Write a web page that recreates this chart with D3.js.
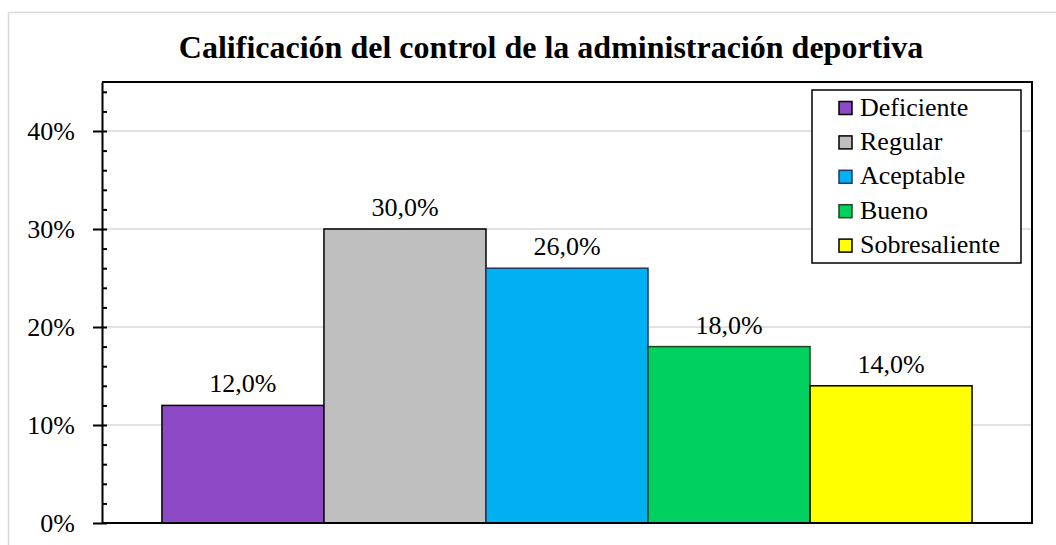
<!DOCTYPE html>
<html>
<head>
<meta charset="utf-8">
<script src="https://cdn.jsdelivr.net/npm/d3@7"></script>
</head>
<body style="margin:0">
<div id="container"></div>
<script>
/* DATA */
const categories = ["Deficiente", "Regular", "Aceptable", "Bueno", "Sobresaliente"];
const values = [0.12, 0.30, 0.26, 0.18, 0.14];
const yTicks = [0, 0.1, 0.2, 0.3, 0.4];
const yMinorTicks = d3.range(0, 0.451, 0.02);
const title = "Calificación del control de la administración deportiva";

/* CONSTANTS */
const width = 1056, height = 545;
const margin = { top: 82, bottom: 22, left: 102, right: 24 };
const fills = ["#8E49C6", "#BFBFBF", "#00B0F0", "#00D060", "#FFFF00"];
const strokes = ["#000", "#000", "#1F3864", "#1E4620", "#000"];
const fontFam = "Times New Roman";

const fmt = v => d3.format(".1%")(v).replace(".", ",");

const svg = d3.select("#container")
  .append("svg")
  .attr("width", width)
  .attr("height", height)
  .attr("font-family", fontFam)
  .style("font-family", `"${fontFam}"`);

// outer chart border
svg.append("rect")
  .attr("x", 8.5).attr("y", 12.5)
  .attr("width", width).attr("height", height)
  .attr("fill", "none").attr("stroke", "#d9d9d9").attr("stroke-width", 1.5);

/* SCALES */
const yScale = d3.scaleLinear()
  .domain([0, 0.45])
  .range([height - margin.bottom, margin.top]);

const xScale = d3.scaleBand()
  .domain(categories)
  .range([margin.left, width - margin.right])
  .paddingInner(0)
  .paddingOuter(0.37);

// gridlines
svg.append("g")
  .selectAll("line")
  .data(yTicks.slice(1))
  .join("line")
  .attr("x1", margin.left).attr("x2", width - margin.right)
  .attr("y1", d => yScale(d)).attr("y2", d => yScale(d))
  .attr("stroke", "#d9d9d9").attr("stroke-width", 1.5);

// bars
svg.append("g")
  .selectAll("rect")
  .data(values)
  .join("rect")
  .attr("x", (d, i) => xScale(categories[i]))
  .attr("y", d => yScale(d))
  .attr("width", xScale.bandwidth())
  .attr("height", d => yScale(0) - yScale(d))
  .attr("fill", (d, i) => fills[i])
  .attr("stroke", (d, i) => strokes[i])
  .attr("stroke-width", 1.5);

// value labels
svg.append("g")
  .selectAll("text")
  .data(values)
  .join("text")
  .attr("x", (d, i) => xScale(categories[i]) + xScale.bandwidth() / 2)
  .attr("y", d => yScale(d) - 13)
  .attr("text-anchor", "middle")
  .attr("font-size", 26)
  .style("font-family", `"${fontFam}"`)
  .text(d => fmt(d));

// plot frame (top & right)
svg.append("path")
  .attr("d", `M${margin.left},${margin.top}H${width - margin.right}V${yScale(0)}H${margin.left}`)
  .attr("fill", "none").attr("stroke", "#000").attr("stroke-width", 2);

// y axis: minor ticks inside
const yMinor = svg.append("g")
  .attr("transform", `translate(${margin.left},0)`)
  .call(d3.axisLeft(yScale).tickValues(yMinorTicks).tickSize(-5).tickFormat(""));
yMinor.selectAll("line").attr("stroke", "#000").attr("stroke-width", 2);
yMinor.select(".domain").remove();

// y axis: major ticks outside with labels
const yAxis = svg.append("g")
  .attr("transform", `translate(${margin.left},0)`)
  .call(d3.axisLeft(yScale).tickValues(yTicks).tickSize(9).tickSizeOuter(0).tickPadding(18)
    .tickFormat(d3.format(".0%")))
  .attr("font-family", fontFam)
  .attr("font-size", 26);
yAxis.select(".domain").attr("stroke", "#000").attr("stroke-width", 2);
yAxis.selectAll("line").attr("stroke", "#000").attr("stroke-width", 2);
yAxis.selectAll("text")
  .attr("fill", "#000")
  .style("font-family", `"${fontFam}"`);

// title
svg.append("text")
  .attr("x", 551).attr("y", 58)
  .attr("text-anchor", "middle")
  .attr("font-size", 32)
  .attr("font-weight", "bold")
  .style("font-family", `"${fontFam}"`)
  .text(title);

/* LEGEND */
const legend = svg.append("g").attr("transform", "translate(812,90)");
legend.append("rect")
  .attr("width", 209).attr("height", 173)
  .attr("fill", "#fff").attr("stroke", "#000").attr("stroke-width", 1.5);

const item = legend.selectAll("g.item")
  .data(categories)
  .join("g")
  .attr("class", "item")
  .attr("transform", (d, i) => `translate(0,${18 + i * 34.4})`);

item.append("rect")
  .attr("x", 27).attr("y", -6.5)
  .attr("width", 13).attr("height", 13)
  .attr("fill", (d, i) => fills[i])
  .attr("stroke", (d, i) => strokes[i])
  .attr("stroke-width", 1.5);

item.append("text")
  .attr("x", 48).attr("y", 7.5)
  .attr("font-size", 26)
  .style("font-family", `"${fontFam}"`)
  .text(d => d);
</script>
</body>
</html>
